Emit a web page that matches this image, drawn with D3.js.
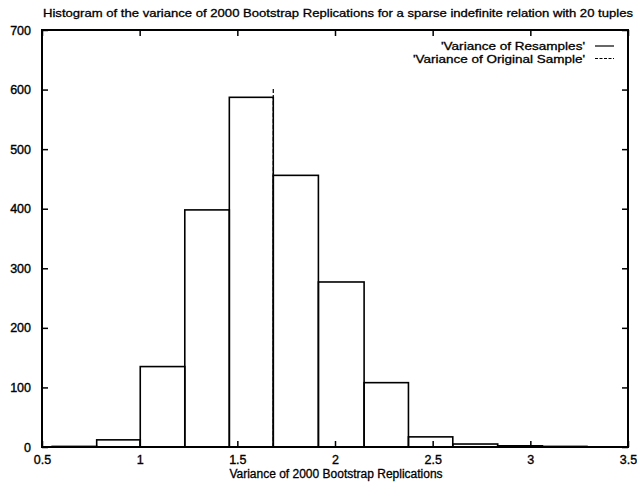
<!DOCTYPE html>
<html>
<head>
<meta charset="utf-8">
<script src="https://cdn.jsdelivr.net/npm/d3@7"></script>
<style>
  html, body { margin: 0; padding: 0; background: #fff; }
  svg text { font-family: "Liberation Sans", Arial, Helvetica, sans-serif; fill: #000; }
</style>
</head>
<body>
<svg id="chart" width="637" height="483"></svg>
<script>
// Histogram bin edges (variance values) and counts per bin
const binEdges = [0.552, 0.780, 1.003, 1.231, 1.459, 1.684, 1.915, 2.149, 2.376, 2.603, 2.833, 3.062, 3.290];
const binCounts = [1, 12, 135, 398, 587, 456, 277, 108, 17, 5, 2, 1];

// Variance of the original sample, drawn as a vertical dashed line
const originalVariance = 1.684;
const originalLineHeight = 602;

const xTicks = [0.5, 1, 1.5, 2, 2.5, 3, 3.5];
const yTicks = [0, 100, 200, 300, 400, 500, 600, 700];

const titleText = "Histogram of the variance of 2000 Bootstrap Replications for a sparse indefinite relation with 20 tuples";
const xLabel = "Variance of 2000 Bootstrap Replications";
const legendLabels = ["'Variance of Resamples'", "'Variance of Original Sample'"];

const svg = d3.select("#chart");
const margin = { left: 42, right: 9, top: 30, bottom: 36 };
const W = 637, H = 483;

const x = d3.scaleLinear().domain([0.5, 3.5]).range([margin.left, W - margin.right]);
const y = d3.scaleLinear().domain([0, 700]).range([H - margin.bottom, margin.top]);

const bins = binCounts.map((c, i) => ({ x0: binEdges[i], x1: binEdges[i + 1], count: c }));

// Bars as outlined steps
svg.append("g")
  .selectAll("rect")
  .data(bins)
  .join("rect")
  .attr("x", d => x(d.x0))
  .attr("y", d => y(d.count))
  .attr("width", d => x(d.x1) - x(d.x0))
  .attr("height", d => y(0) - y(d.count))
  .attr("fill", "none")
  .attr("stroke", "#000")
  .attr("stroke-width", 1.6);

// Original sample variance marker
svg.append("line")
  .attr("x1", x(originalVariance)).attr("x2", x(originalVariance))
  .attr("y1", y(0)).attr("y2", y(originalLineHeight))
  .attr("stroke", "#000")
  .attr("stroke-width", 1.2)
  .attr("stroke-dasharray", "4,2");

// Axes with inward ticks on all four sides
const tickLen = 6;
const xAxisB = d3.axisBottom(x).tickValues(xTicks).tickSizeInner(-tickLen).tickSizeOuter(0).tickPadding(10)
  .tickFormat(d3.format(""));
const xAxisT = d3.axisTop(x).tickValues(xTicks).tickSizeInner(-tickLen).tickSizeOuter(0).tickFormat("");
const yAxisL = d3.axisLeft(y).tickValues(yTicks).tickSizeInner(-tickLen).tickSizeOuter(0).tickPadding(11);
const yAxisR = d3.axisRight(y).tickValues(yTicks).tickSizeInner(-tickLen).tickSizeOuter(0).tickFormat("");

function styleAxis(g) {
  g.select(".domain").remove();
  g.selectAll(".tick line").attr("stroke", "#000").attr("stroke-width", 1.5);
  g.selectAll(".tick text")
    .attr("font-size", 12.5)
    .attr("stroke", "#000").attr("stroke-width", 0.35);
}

svg.append("g").attr("transform", `translate(0,${y(0)})`).call(xAxisB).call(styleAxis)
  .selectAll(".tick text").attr("dy", "0.55em");
svg.append("g").attr("transform", `translate(0,${y(700)})`).call(xAxisT).call(styleAxis);
svg.append("g").attr("transform", `translate(${x(0.5)},0)`).call(yAxisL).call(styleAxis);
svg.append("g").attr("transform", `translate(${x(3.5)},0)`).call(yAxisR).call(styleAxis);

// Plot frame
svg.append("rect")
  .attr("x", x(0.5)).attr("y", y(700))
  .attr("width", x(3.5) - x(0.5)).attr("height", y(0) - y(700))
  .attr("fill", "none").attr("stroke", "#000").attr("stroke-width", 2);

// Title
svg.append("text")
  .attr("x", (x(0.5) + x(3.5)) / 2 + 3).attr("y", 17)
  .attr("text-anchor", "middle")
  .attr("font-size", 11.5)
  .attr("stroke", "#000").attr("stroke-width", 0.3)
  .attr("textLength", 590).attr("lengthAdjust", "spacingAndGlyphs")
  .text(titleText);

// X axis label
svg.append("text")
  .attr("x", 336).attr("y", 478)
  .attr("text-anchor", "middle")
  .attr("font-size", 12)
  .attr("stroke", "#000").attr("stroke-width", 0.3)
  .text(xLabel);

// Legend
const legendWidths = [144, 172];
const legendG = svg.append("g");
legendLabels.forEach((lab, i) => {
  const ly = 50 + i * 12.5;
  legendG.append("text")
    .attr("x", 585 - legendWidths[i]).attr("y", ly)
    .attr("font-size", 11.5)
    .attr("stroke", "#000").attr("stroke-width", 0.3)
    .attr("textLength", legendWidths[i]).attr("lengthAdjust", "spacingAndGlyphs")
    .text(lab);
  legendG.append("line")
    .attr("x1", 595).attr("x2", 614)
    .attr("y1", ly - 4).attr("y2", ly - 4)
    .attr("stroke", "#000").attr("stroke-width", 1.2)
    .attr("stroke-dasharray", i === 0 ? null : "3,1.5");
});
</script>
</body>
</html>
